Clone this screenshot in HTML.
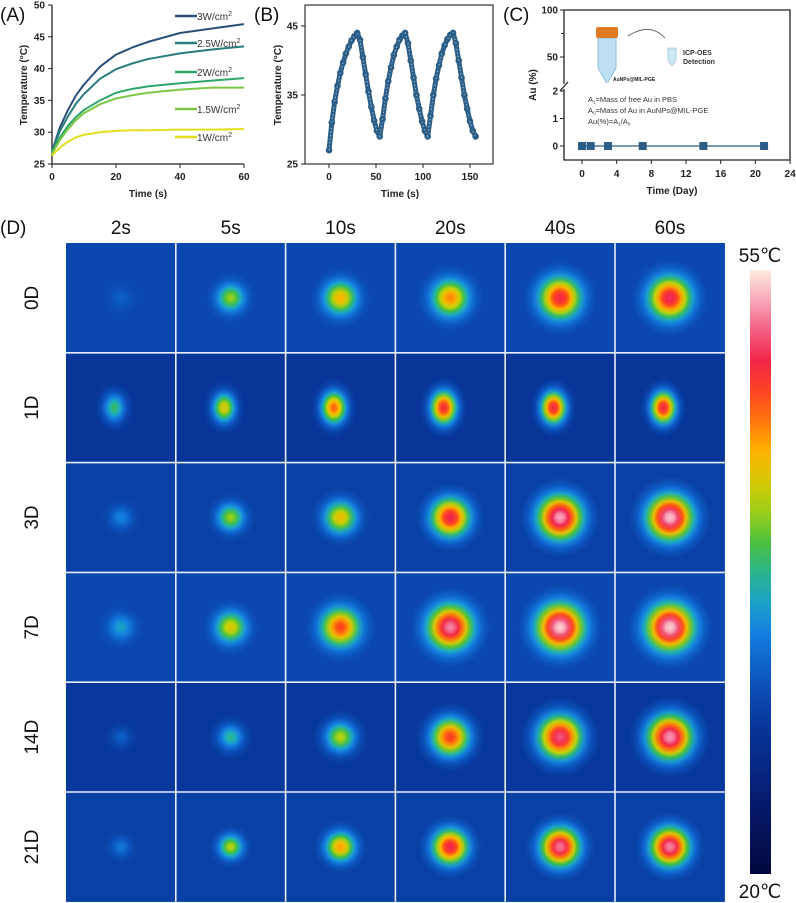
<!DOCTYPE html>
<html><head><meta charset="utf-8">
<style>
html,body{margin:0;padding:0;background:#fff;}
svg{display:block;font-family:"Liberation Sans",Arial,sans-serif;}
.tk{font-size:10px;font-weight:bold;fill:#222;}
.at{font-size:10px;font-weight:bold;fill:#222;}
.pl{font-size:19px;fill:#111;}
.hd{font-size:19px;fill:#111;}
</style></head>
<body>
<svg id="fig" width="796" height="903" viewBox="0 0 796 903" xmlns="http://www.w3.org/2000/svg">
<defs id="defs"></defs>
<g id="pa"></g>
<g id="pb"></g>
<g id="pc"></g>
<g id="pd"></g>
</svg>
<script>
// ---------- Panel A data ----------
const aTimes = [0,2.5,5,7.5,10,15,20,25,30,40,50,60];
const a3W  = [27,30.8,33.5,35.8,37.5,40.3,42.2,43.3,44.2,45.6,46.3,47];
const a25W = [27,30.2,32.5,34.5,36,38.4,39.9,40.8,41.5,42.4,43,43.5];
const a2W  = [26.8,29.2,31,32.4,33.5,35,36.2,36.8,37.2,37.7,38.1,38.5];
const a15W = [26.6,28.8,30.5,31.9,33,34.4,35.3,35.8,36.2,36.7,37,37];
const a1W  = [26.3,27.6,28.5,29.2,29.6,30,30.2,30.3,30.3,30.4,30.4,30.5];
const aLabels = ["3W/cm","2.5W/cm","2W/cm","1.5W/cm","1W/cm"];
const aColors = ["#2a4f78","#2a7d7c","#2fa66a","#7cc744","#e4de20"];
const aXTicks = [0,20,40,60];
const aYTicks = [25,30,35,40,45,50];
// ---------- Panel B data (every 3 s) ----------
const bTimes = [0,3,6,9,12,15,18,21,24,27,30,33,36,39,42,45,48,51,54,57,60,63,66,69,72,75,78,81,84,87,90,93,96,99,102,105,108,111,114,117,120,123,126,129,132,135,138,141,144,147,150,153,156];
const bTemps = [27,31,34,36.3,38.2,39.7,41,42,42.9,43.5,44,43,40.5,38,35.5,33.3,31.3,29.8,29,31.5,34.5,37,39,40.8,42,43,43.6,44,42.5,40,37.5,35,33,31.2,29.8,29,32,35,37.4,39.3,41,42.2,43.1,43.7,44,42.5,40,37.5,35,33,31.2,29.8,29];
const bXTicks = [0,50,100,150];
const bYTicks = [25,35,45];
// ---------- Panel C data ----------
const cDays = [0,1,3,7,14,21];
const cAu = [0,0,0,0,0,0];
const cXTicks = [0,4,8,12,16,20,24];
const cYLow = [0,1,2];
const cYHigh = [50,100];
// ---------- Panel D data ----------
const dCols = ["2s","5s","10s","20s","40s","60s"];
const dRows = ["0D","1D","3D","7D","14D","21D"];
const dPeak = [
 [0.34,0.60,0.70,0.74,0.85,0.87],
 [0.52,0.66,0.77,0.84,0.85,0.85],
 [0.40,0.60,0.68,0.86,0.95,0.97],
 [0.45,0.66,0.80,0.93,0.98,0.98],
 [0.34,0.50,0.62,0.81,0.90,0.94],
 [0.38,0.62,0.72,0.86,0.92,0.93]];
const dRadius = [
 [20,25,30,33,37,38],
 [24,25,27,28,27,27],
 [21,25,30,35,40,41],
 [23,28,35,40,42,42],
 [18,23,28,35,40,41],
 [18,22,27,32,35,35]];
const dBg = [0.29,0.24,0.27,0.29,0.25,0.27];

const NS="http://www.w3.org/2000/svg";
function el(tag,attrs,parent,text){const e=document.createElementNS(NS,tag);for(const k in attrs)e.setAttribute(k,attrs[k]);if(text!==undefined)e.textContent=text;parent.appendChild(e);return e;}

// ===== Panel A =====
(function(){
 const g=document.getElementById('pa');
 const X=t=>52+t*(192/60), Y=v=>164-(v-25)*(159/25);
 let t=el('text',{x:0,y:21,class:'pl'},g,'(A)');
 
 
 let ax=el('path',{d:'M52,5 V164 H244',fill:'none',stroke:'#222','stroke-width':1.3},g);
 
 
 aXTicks.forEach(v=>{el('line',{x1:X(v),x2:X(v),y1:164,y2:168,stroke:'#222'},g);
  const l=el('text',{x:X(v),y:180,class:'tk','text-anchor':'middle'},g,v);
  
  });
 aYTicks.forEach(v=>{el('line',{x1:48,x2:52,y1:Y(v),y2:Y(v),stroke:'#222'},g);
  const l=el('text',{x:45,y:Y(v)+3.5,class:'tk','text-anchor':'end'},g,v);
  
  });
 const xt=el('text',{x:148,y:197,class:'at','text-anchor':'middle'},g,'Time (s)');
 
 
 const yt=el('text',{x:0,y:0,class:'at','text-anchor':'middle',transform:'translate(27,85) rotate(-90)'},g,'Temperature (°C)');
 
 
 const series=[a3W,a25W,a2W,a15W,a1W];
 const names=['line-3w','line-2-5w','line-2w','line-1-5w','line-1w'];
 series.forEach((s,i)=>{
  const p=el('polyline',{points:s.map((v,j)=>X(aTimes[j])+','+Y(v)).join(' '),fill:'none',stroke:aColors[i],'stroke-width':2,'stroke-linejoin':'round'},g);
  
  
 });
 const ly=[16,43,72,109,137];
 aLabels.forEach((lab,i)=>{
  const lg=el('g',{},g);
  
  
  el('line',{x1:175,x2:197,y1:ly[i],y2:ly[i],stroke:aColors[i],'stroke-width':2.5},lg);
  const tx=el('text',{x:197,y:ly[i]+4,'font-size':10,fill:'#333'},lg,lab);
  el('tspan',{'font-size':7,dy:-4},tx,'2');
 });
})();

// ===== Panel B =====
(function(){
 const g=document.getElementById('pb');
 const X=t=>329+t*0.94, Y=v=>164-(v-25)*6.9;
 let t=el('text',{x:254,y:21,class:'pl'},g,'(B)');
 
 
 const fr=el('rect',{x:305,y:5,width:188,height:159,fill:'none',stroke:'#333','stroke-width':1.2},g);
 
 
 bXTicks.forEach(v=>{el('line',{x1:X(v),x2:X(v),y1:164,y2:168,stroke:'#222'},g);
  const l=el('text',{x:X(v),y:180,class:'tk','text-anchor':'middle'},g,v);
  
  });
 bYTicks.forEach(v=>{el('line',{x1:301,x2:305,y1:Y(v),y2:Y(v),stroke:'#222'},g);
  const l=el('text',{x:298,y:Y(v)+3.5,class:'tk','text-anchor':'end'},g,v);
  
  });
 const xt=el('text',{x:400,y:197,class:'at','text-anchor':'middle'},g,'Time (s)');
 
 
 const yt=el('text',{x:0,y:0,class:'at','text-anchor':'middle',transform:'translate(281,85) rotate(-90)'},g,'Temperature (°C)');
 
 
 const pts=bTemps.map((v,i)=>X(bTimes[i])+','+Y(v)).join(' ');
 const band=el('polyline',{points:pts,fill:'none',stroke:'#2b5d86','stroke-width':5,'stroke-linejoin':'round','stroke-linecap':'round'},g);
 
 
 const inner=el('polyline',{points:pts,fill:'none',stroke:'#8fb0c8','stroke-width':1.2,'stroke-dasharray':'1.5 2'},g);
 
 
 bTemps.forEach((v,i)=>{
  const m=el('circle',{cx:X(bTimes[i]),cy:Y(v),r:2.6,fill:'none',stroke:'#2b5d86','stroke-width':1.4},g);
  
  
 });
})();

// ===== Panel C =====
(function(){
 const g=document.getElementById('pc');
 const X=d=>582+d*8.67, YL=v=>146-v*27.5, YH=v=>104-v*0.94;
 let t=el('text',{x:503,y:21,class:'pl'},g,'(C)');
 
 
 const fr=el('path',{d:'M564,10 H790 V160 H564 V89 M564,84 V10',fill:'none',stroke:'#222','stroke-width':1.3},g);
 
 
 el('line',{x1:560,y1:91,x2:568,y2:82,stroke:'#222','stroke-width':1.3},g);
 cXTicks.forEach(v=>{el('line',{x1:X(v),x2:X(v),y1:160,y2:164,stroke:'#222'},g);
  const l=el('text',{x:X(v),y:177,class:'tk','text-anchor':'middle'},g,v);
  
  });
 cYLow.forEach(v=>{el('line',{x1:560,x2:564,y1:YL(v),y2:YL(v),stroke:'#222'},g);
  const l=el('text',{x:558,y:YL(v)+3.5,class:'tk','text-anchor':'end'},g,v);
  
  });
 cYHigh.forEach(v=>{el('line',{x1:560,x2:564,y1:YH(v),y2:YH(v),stroke:'#222'},g);
  const l=el('text',{x:558,y:YH(v)+3.5,class:'tk','text-anchor':'end'},g,v);
  
  });
 el('line',{x1:561,x2:564,y1:YH(75),y2:YH(75),stroke:'#222'},g);
 const xt=el('text',{x:672,y:194,class:'at','text-anchor':'middle'},g,'Time (Day)');
 
 
 const yt=el('text',{x:0,y:0,class:'at','text-anchor':'middle',transform:'translate(536,85) rotate(-90)'},g,'Au (%)');
 
 
 const il=el('g',{},g);
 
 
 el('path',{d:'M598,38 H616 V68 L608,82 H606 L598,68 Z',fill:'#bfe0f2',stroke:'#8fbfd8','stroke-width':1},il);
 el('rect',{x:596,y:27,width:22,height:11,rx:2,fill:'#e07a20'},il);
 el('path',{d:'M628,36 Q650,22 665,38',fill:'none',stroke:'#555','stroke-width':0.8},il);
 el('path',{d:'M668,48 H676 V60 L672,66 L668,60 Z',fill:'#cfe8f6',stroke:'#9cc8e0','stroke-width':0.8},il);
 el('text',{x:683,y:55,'font-size':7,'font-weight':'bold',fill:'#333'},il,'ICP-OES');
 el('text',{x:683,y:64,'font-size':7,'font-weight':'bold',fill:'#333'},il,'Detection');
 el('text',{x:613,y:81,'font-size':5,'font-weight':'bold',fill:'#222'},il,'AuNPs@MIL-PGE');
 const f1=el('text',{x:588,y:102,'font-size':7.5,fill:'#333'},il,'A');
 el('tspan',{'font-size':4.5,dy:1.5},f1,'1'); el('tspan',{dy:-1.5},f1,'=Mass of free Au in PBS');
 const f2=el('text',{x:588,y:113,'font-size':7.5,fill:'#333'},il,'A');
 el('tspan',{'font-size':4.5,dy:1.5},f2,'0'); el('tspan',{dy:-1.5},f2,'=Mass of  Au in AuNPs@MIL-PGE');
 const f3=el('text',{x:588,y:124,'font-size':7.5,fill:'#333'},il,'Au(%)=A');
 el('tspan',{'font-size':4.5,dy:1.5},f3,'1'); el('tspan',{dy:-1.5},f3,'/A');
 el('tspan',{'font-size':4.5,dy:1.5},f3,'0');
 const ln=el('polyline',{points:cDays.map((d,i)=>X(d)+','+YL(cAu[i])).join(' '),fill:'none',stroke:'#2b5d86','stroke-width':1.2},g);
 
 
 cDays.forEach((d,i)=>{
  const m=el('rect',{x:X(d)-4,y:YL(cAu[i])-4,width:8,height:8,fill:'#2b5d86'},g);
  
  
 });
})();

// ===== Panel D =====
const cmap=[[0,[2,8,60]],[0.12,[6,26,110]],[0.25,[8,56,155]],[0.32,[12,84,190]],[0.4,[20,128,225]],[0.47,[30,175,190]],[0.54,[60,190,70]],[0.62,[190,212,10]],[0.7,[255,180,0]],[0.78,[255,80,20]],[0.86,[240,32,80]],[0.93,[245,140,170]],[1,[252,236,222]]];
function cm(t){t=Math.max(0,Math.min(1,t));for(let i=1;i<cmap.length;i++){if(t<=cmap[i][0]){const a=cmap[i-1],b=cmap[i],f=(t-a[0])/(b[0]-a[0]);const c=a[1].map((v,k)=>Math.round(v+(b[1][k]-v)*f));return 'rgb('+c.join(',')+')';}}return 'rgb(252,236,222)';}
(function(){
 const g=document.getElementById('pd'), defs=document.getElementById('defs');
 let t=el('text',{x:0,y:234,class:'pl'},g,'(D)');
 
 
 const L=66,T=243,S=109.8;
 dCols.forEach((c,i)=>{
  const h=el('text',{x:L+S*i+S/2,y:234,class:'hd','text-anchor':'middle'},g,c);
  
  
 });
 dRows.forEach((r,j)=>{
  const h=el('text',{x:0,y:0,class:'hd','text-anchor':'middle',transform:'translate(38,'+(T+S*j+S/2)+') rotate(-90)'},g,r);
  
  
 });
 dRows.forEach((r,j)=>{dCols.forEach((c,i)=>{
  const id='rg'+j+'_'+i, bg=dBg[j], pk=dPeak[j][i], R=dRadius[j][i];
  const rg=el('radialGradient',{id:id,gradientUnits:'userSpaceOnUse'},defs);
  const cx=L+S*i+(j==1?S*0.44:S*0.5), cy=T+S*j+S*0.5;
  rg.setAttribute('cx',cx);rg.setAttribute('cy',cy);rg.setAttribute('r',R);
  if(j==1){rg.setAttribute('gradientTransform','translate('+cx+','+cy+') scale(0.85,1.1) translate('+(-cx)+','+(-cy)+')');}
  for(let k=0;k<=10;k++){const s=k/10;const v=bg+(pk-bg)*Math.exp(-2.6*s*s)*(1-s*s*0.85);
   el('stop',{offset:s,'stop-color':cm(k==10?bg:v)},rg);}
  const cell=el('rect',{x:L+S*i,y:T+S*j,width:S,height:S,fill:cm(bg)},g);
  
  
  el('rect',{x:L+S*i,y:T+S*j,width:S,height:S,fill:'url(#'+id+')'},g);
 });});
 for(let k=1;k<6;k++){
  el('line',{x1:L+S*k,x2:L+S*k,y1:T,y2:T+S*6,stroke:'#e8eef8','stroke-width':1.6},g);
  el('line',{x1:L,x2:L+S*6,y1:T+S*k,y2:T+S*k,stroke:'#e8eef8','stroke-width':1.6},g);
 }
 const cg=el('linearGradient',{id:'cbar',x1:0,y1:1,x2:0,y2:0},defs);
 for(let k=0;k<=20;k++)el('stop',{offset:k/20,'stop-color':cm(k/20)},cg);
 const cb=el('rect',{x:750,y:270,width:21,height:604,fill:'url(#cbar)'},g);
 
 
 const t1=el('text',{x:760,y:262,'font-size':19,'text-anchor':'middle',fill:'#111'},g,'55℃');
 
 
 const t2=el('text',{x:760,y:898,'font-size':19,'text-anchor':'middle',fill:'#111'},g,'20℃');
 
 
})();
</script>
</body></html>
